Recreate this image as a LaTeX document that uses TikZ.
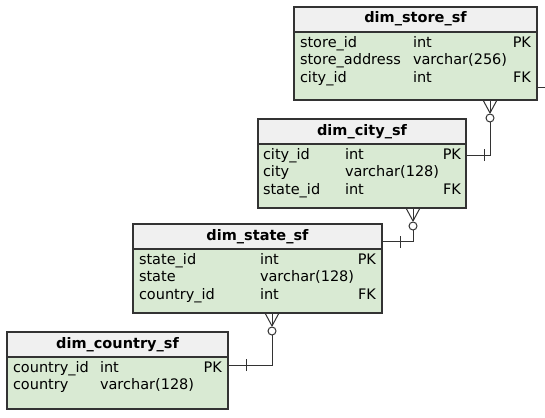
\documentclass[tikz,border=0pt]{standalone}
\usepackage{fontspec}
\setmainfont{DejaVu Sans}
\usepackage{array}
\usetikzlibrary{positioning}
\definecolor{headgray}{HTML}{F0F0F0}
\definecolor{bodygreen}{HTML}{D9EAD3}
\definecolor{edgegray}{HTML}{333333}
\newcolumntype{K}{>{\raggedleft\arraybackslash}p{20pt}}
\tikzset{tblhead/.style={draw=edgegray,fill=headgray,line width=1.2pt,outer sep=0pt,
                         minimum height=25pt,anchor=north west,font=\fontsize{14.5}{17.5}\selectfont\bfseries,
                         text height=10pt,text depth=3pt},
         tblbody/.style={draw=edgegray,fill=bodygreen,line width=1.2pt,outer sep=0pt,
                         inner xsep=6pt,inner ysep=3pt,font=\fontsize{14.5}{17.5}\selectfont},
         rel/.style={draw=edgegray,line width=1pt}
}

\begin{document}
\begin{tikzpicture}[x=1pt,y=-1pt]
\useasboundingbox (0,0) rectangle (545,417);

\node[tblhead,minimum width=243pt] (storeh) at (294,7) {dim\_store\_sf};
\node[tblbody,below=0pt of storeh] (storeb) {\begin{tabular}{@{}p{113pt}@{}p{98pt}@{}K@{}}
store\_id & int & PK\\
store\_address & varchar(256) & \\
city\_id & int & FK\\[9.5pt]
\end{tabular}};

\node[tblhead,minimum width=208pt] (cityh) at (258,119) {dim\_city\_sf};
\node[tblbody,inner xsep=5pt,below=0pt of cityh] (cityb) {\begin{tabular}{@{}p{82pt}@{}p{96pt}@{}K@{}}
city\_id & int & PK\\
city & varchar(128) & \\
state\_id & int & FK\\[5.5pt]
\end{tabular}};

\node[tblhead,minimum width=249pt] (stateh) at (133,224) {dim\_state\_sf};
\node[tblbody,below=0pt of stateh] (stateb) {\begin{tabular}{@{}p{121pt}@{}p{96pt}@{}K@{}}
state\_id & int & PK\\
state & varchar(128) & \\
country\_id & int & FK\\[5.5pt]
\end{tabular}};

\node[tblhead,minimum width=221pt] (countryh) at (7,332) {dim\_country\_sf};
\node[tblbody,below=0pt of countryh] (countryb) {\begin{tabular}{@{}p{87pt}@{}p{102pt}@{}K@{}}
country\_id & int & PK\\
country & varchar(128) & \\[11pt]
\end{tabular}};

% many end under the parent table, one end at the child table
\coordinate (sc1) at ([xshift=-47pt]storeb.south east);
\coordinate (sc2) at ([yshift=-11pt]cityb.north east);
\coordinate (cs1) at ([xshift=-53pt]cityb.south east);
\coordinate (cs2) at ([yshift=-5pt]stateh.east);
\coordinate (st1) at ([xshift=-110pt]stateb.south east);
\coordinate (st2) at ([yshift=-8pt]countryb.north east);
\coordinate (storeout) at (545,88);

\foreach \many/\one in {sc1/sc2,cs1/cs2,st1/st2}{
  \foreach \d in {-7,0,7} \draw[rel] ([xshift=\d pt]\many) -- ([yshift=-13pt]\many);
  \draw[rel] ([yshift=-18pt]\many) circle (4pt);
  \draw[rel] ([yshift=-22pt]\many) |- (\one);
  \draw[rel] ([xshift=18pt,yshift=-6pt]\one) -- ([xshift=18pt,yshift=6pt]\one);
}
\draw[rel] (storeb.east |- storeout) -- (storeout);

\end{tikzpicture}
\end{document}
